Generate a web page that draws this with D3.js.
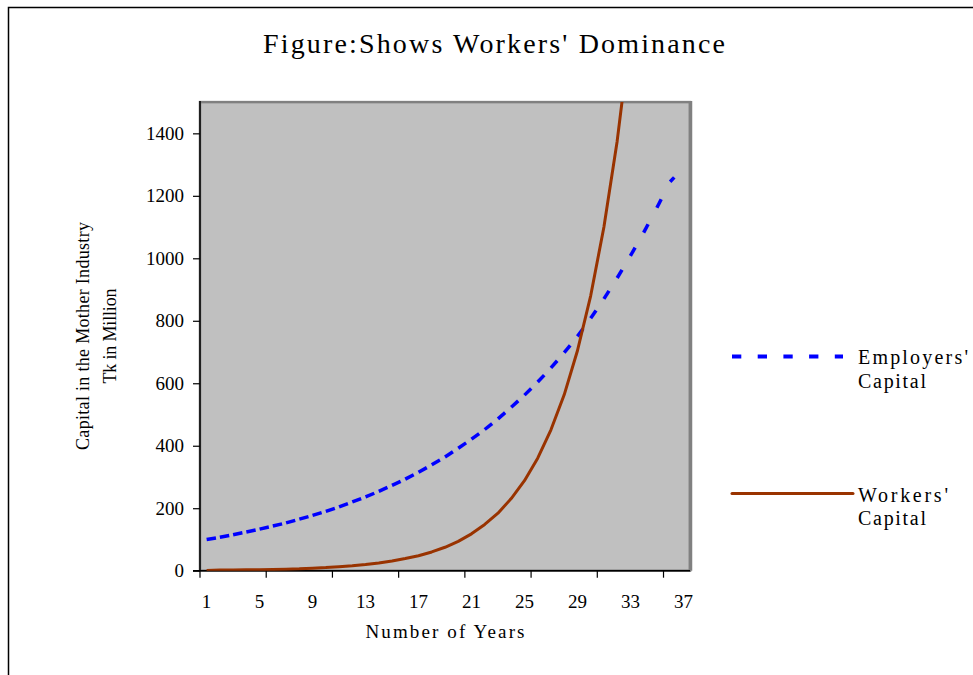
<!DOCTYPE html>
<meta charset="utf-8">
<title>Figure: Shows Workers' Dominance</title>
<style>
body { margin: 0; background: #fff; }
svg { display: block; }
text { font-family: "Liberation Serif", "DejaVu Serif", serif; fill: #000; }
</style>
<body>
<svg id="chart" width="973" height="675"></svg>
<script src="https://cdn.jsdelivr.net/npm/d3@7/dist/d3.min.js"></script>
<script>

// Years on the category axis
var years = [1, 2, 3, 4, 5, 6, 7, 8, 9, 10, 11, 12, 13, 14, 15, 16, 17, 18, 19,
             20, 21, 22, 23, 24, 25, 26, 27, 28, 29, 30, 31, 32, 33, 34, 35, 36, 37];

// Employers' capital
var employers = [100, 107, 115, 124, 133, 143, 153, 165, 177, 190, 204, 220, 236, 254,
                 273, 293, 315, 339, 364, 392, 421, 452, 486, 523, 562, 604, 649, 698,
                 750, 808, 870, 937, 1008, 1082, 1162, 1245, 1290];

// Workers' capital (leaves the top of the plot after year 32)
var workers = [1, 2, 2, 3, 3, 4, 5, 6, 8, 10, 13, 16, 20, 25, 31, 39, 48, 60, 75, 94,
               118, 148, 184, 231, 288, 360, 451, 563, 704, 880, 1100, 1375, 1719,
               2149, 2686, 3358, 4197];

var yTicks = [0, 200, 400, 600, 800, 1000, 1200, 1400];
var xLabelYears = [1, 5, 9, 13, 17, 21, 25, 29, 33, 37];
var xTickEvery = 5;

var svg = d3.select("#chart");

// outer frame (only left and top edges show in the picture)
svg.append("path")
  .attr("d", "M8.5,675 V7.5 H973")
  .attr("fill", "none")
  .attr("stroke", "#000")
  .attr("stroke-width", 1.5);

// title
svg.append("text")
  .attr("x", 494).attr("y", 53)
  .attr("text-anchor", "middle")
  .attr("font-size", 28)
  .attr("textLength", 462)
  .attr("lengthAdjust", "spacing")
  .text("Figure:Shows Workers' Dominance");

var pL = 200, pR = 690, pT = 102.1, pB = 570.7;

var x = d3.scaleBand().domain(years).range([pL, pR]).padding(0);
var y = d3.scaleLinear().domain([0, 1500]).range([pB, pT]);
var cx = function(yr) { return x(yr) + x.bandwidth() / 2; };

// plot area
svg.append("rect")
  .attr("x", pL).attr("y", pT)
  .attr("width", pR - pL).attr("height", pB - pT)
  .attr("fill", "#C0C0C0")
  .attr("stroke", "#808080")
  .attr("stroke-width", 2.5);
svg.append("line")
  .attr("x1", pR + 0.5).attr("x2", pR + 0.5)
  .attr("y1", pT - 1).attr("y2", pB)
  .attr("stroke", "#808080").attr("stroke-width", 3.5);

svg.append("clipPath").attr("id", "plotclip")
  .append("rect")
  .attr("x", pL).attr("y", pT)
  .attr("width", pR - pL).attr("height", pB - pT);

// y axis
var yAxis = d3.axisLeft(y).tickValues(yTicks).tickFormat(d3.format("d"))
  .tickSize(7).tickPadding(9);
var gy = svg.append("g").attr("transform", "translate(" + pL + ",0)").call(yAxis);
gy.select(".domain").attr("stroke", "#000").attr("stroke-width", 1.5).attr("d", "M0," + (pT - 1) + "V" + pB);
gy.selectAll(".tick line").attr("stroke", "#000").attr("stroke-width", 1.2);
gy.selectAll(".tick text")
  .attr("font-family", "Liberation Serif, serif")
  .attr("font-size", 19);

// x axis: labels every 4 years, tick marks every 5 categories on the boundaries
var gx = svg.append("g").attr("transform", "translate(0," + pB + ")");
gx.append("line")
  .attr("x1", pL - 7).attr("x2", pR)
  .attr("stroke", "#000").attr("stroke-width", 1.5);
var tickEdges = years.filter(function(d, i) { return i % xTickEvery === 0; })
  .map(function(d) { return x(d); });
gx.selectAll("line.tk").data(tickEdges).enter().append("line")
  .attr("class", "tk")
  .attr("x1", function(d) { return d; }).attr("x2", function(d) { return d; })
  .attr("y1", 0).attr("y2", 7)
  .attr("stroke", "#000").attr("stroke-width", 1.2);
gx.selectAll("text").data(xLabelYears).enter().append("text")
  .attr("x", function(d) { return cx(d); })
  .attr("y", 37)
  .attr("text-anchor", "middle")
  .attr("font-size", 19)
  .text(function(d) { return d; });

// axis titles
svg.append("text")
  .attr("x", 445).attr("y", 638)
  .attr("text-anchor", "middle")
  .attr("font-size", 19)
  .attr("textLength", 159)
  .attr("lengthAdjust", "spacing")
  .text("Number of Years");

var yt = svg.append("g").attr("transform", "translate(89,336) rotate(-90)");
yt.append("text")
  .attr("x", 0).attr("y", 0)
  .attr("text-anchor", "middle")
  .attr("font-size", 18)
  .attr("textLength", 228)
  .attr("lengthAdjust", "spacing")
  .text("Capital in the Mother Industry");
yt.append("text")
  .attr("x", 0).attr("y", 27)
  .attr("text-anchor", "middle")
  .attr("font-size", 18)
  .attr("textLength", 95)
  .attr("lengthAdjust", "spacing")
  .text("Tk in Million");

var plot = svg.append("g").attr("clip-path", "url(#plotclip)");

// Employers: the dash pattern restarts on every segment, one dash per segment
var empSegs = d3.pairs(employers.map(function(v, i) { return [cx(years[i]), y(v)]; }));
plot.selectAll("line.emp").data(empSegs).enter().append("line")
  .attr("class", "emp")
  .attr("x1", function(d) { return d[0][0]; }).attr("y1", function(d) { return d[0][1]; })
  .attr("x2", function(d) { return d[1][0]; }).attr("y2", function(d) { return d[1][1]; })
  .attr("stroke", "#0000FF")
  .attr("stroke-width", 3.5)
  .attr("stroke-dasharray", function(d, i) { return i === empSegs.length - 1 ? "6 60" : "9.5 60"; });

// Workers
var line = d3.line()
  .x(function(d, i) { return cx(years[i]); })
  .y(function(d) { return y(d); });
plot.append("path")
  .datum(workers)
  .attr("d", line)
  .attr("fill", "none")
  .attr("stroke", "#993300")
  .attr("stroke-width", 3)
  .attr("stroke-linejoin", "round");

// legend
var legend = svg.append("g");
legend.append("line")
  .attr("x1", 732).attr("x2", 843).attr("y1", 356.5).attr("y2", 356.5)
  .attr("stroke", "#0000FF").attr("stroke-width", 4)
  .attr("stroke-dasharray", "9.3 16.4");
legend.append("text").attr("x", 858).attr("y", 364)
  .attr("font-size", 20).attr("textLength", 110).attr("lengthAdjust", "spacing")
  .text("Employers'");
legend.append("text").attr("x", 858).attr("y", 388)
  .attr("font-size", 20).attr("textLength", 68).attr("lengthAdjust", "spacing")
  .text("Capital");

legend.append("line")
  .attr("x1", 732).attr("x2", 853).attr("y1", 493.5).attr("y2", 493.5)
  .attr("stroke", "#993300").attr("stroke-width", 3)
  .attr("stroke-linecap", "round");
legend.append("text").attr("x", 858).attr("y", 502)
  .attr("font-size", 20).attr("textLength", 90).attr("lengthAdjust", "spacing")
  .text("Workers'");
legend.append("text").attr("x", 858).attr("y", 525)
  .attr("font-size", 20).attr("textLength", 68).attr("lengthAdjust", "spacing")
  .text("Capital");
</script>
</body>
